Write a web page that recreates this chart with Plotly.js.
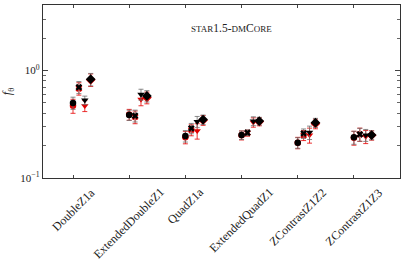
<!DOCTYPE html>
<html><head><meta charset="utf-8">
<script src="https://cdn.plot.ly/plotly-3.0.1.min.js"></script>
<style>html,body{margin:0;padding:0;background:#fff}#plot{width:407px;height:260px}</style>
</head><body><div id="plot"></div>
<script>
const categories = ["DoubleZ1a","ExtendedDoubleZ1","QuadZ1a","ExtendedQuadZ1","ZContrastZ1Z2","ZContrastZ1Z3"];
const markerNames = ["circle","cross","triangle","diamond"];
// black series values
const blackCircle = [0.50, 0.385, 0.246, 0.251, 0.213, 0.239];
const blackCross  = [0.70, 0.38, 0.29, 0.264, 0.26, 0.255];
const blackTri    = [0.53, 0.60, 0.334, 0.339, 0.266, 0.251];
const blackDia    = [0.83, 0.58, 0.35, 0.339, 0.327, 0.251];
const blackCircleErr = [0.065, 0.042, 0.03, 0.023, 0.024, 0.033];
const blackCrossErr  = [0.09, 0.048, 0.032, 0.016, 0.026, 0.035];
const blackTriErr    = [0.048, 0.07, 0.04, 0.032, 0.038, 0.032];
const blackDiaErr    = [0.11, 0.07, 0.035, 0.028, 0.032, 0.024];
// red series values
const redCircle = [0.47, 0.39, 0.24, 0.25, 0.213, 0.237];
const redCross  = [0.68, 0.37, 0.28, 0.262, 0.25, 0.255];
const redTri    = [0.47, 0.54, 0.275, 0.33, 0.251, 0.243];
const redDia    = [0.82, 0.56, 0.345, 0.335, 0.32, 0.25];
const redCircleErr = [0.07, 0.045, 0.032, 0.024, 0.026, 0.035];
const redCrossErr  = [0.09, 0.05, 0.033, 0.017, 0.027, 0.036];
const redTriErr    = [0.055, 0.07, 0.045, 0.033, 0.04, 0.034];
const redDiaErr    = [0.11, 0.07, 0.036, 0.029, 0.033, 0.025];

const offsets = [0, 0.105, 0.21, 0.315];
const symbols = ["circle","x","triangle-down","diamond"];
const sizes = [6.5, 6, 6.5, 7.5];

const redSets = [[redCircle,redCircleErr],[redCross,redCrossErr],[redTri,redTriErr],[redDia,redDiaErr]];
const blackSets = [[blackCircle,blackCircleErr],[blackCross,blackCrossErr],[blackTri,blackTriErr],[blackDia,blackDiaErr]];

const traces = [];
function add(sets, color, ecolor){
  sets.forEach((s,i)=>{
    traces.push({
      type:'scatter', mode:'markers',
      x: categories.map((c,j)=>j+offsets[i]),
      y: s[0],
      error_y:{type:'data', array:s[1], visible:true, color:ecolor, thickness:1, width:2.5},
      marker:{symbol:symbols[i], size:sizes[i], color:color, line:{width:0}},
      showlegend:false, hoverinfo:'skip', name:markerNames[i]
    });
  });
}
add(redSets, '#e00000', 'rgba(230,0,0,0.8)');
add(blackSets, '#000000', 'rgba(110,110,110,0.8)');

const font = {family:'"Liberation Serif", "DejaVu Serif", serif', color:'#222'};
const annotations = categories.map((c,j)=>({
  xref:'x', yref:'paper', x:j, y:-0.025, xanchor:'center', yanchor:'top',
  text:c, textangle:-45, showarrow:false, font:Object.assign({size:12}, font)
}));
annotations.push({
  xref:'paper', yref:'paper', x:0.527, y:0.865, xanchor:'center', yanchor:'middle', showarrow:false,
  text:'<span style="font-size:9px">STAR</span>1.5-<span style="font-size:9px">DM</span>C<span style="font-size:9px">ORE</span>',
  font:Object.assign({size:11.5}, font)
});
const layout = {
  width:407, height:260,
  margin:{l:43, r:7, t:5, b:82},
  paper_bgcolor:'#fff', plot_bgcolor:'#fff',
  font: Object.assign({size:11}, font),
  xaxis:{
    range:[-0.534, 5.82], tickvals:[0,1,2,3,4,5], showticklabels:false,
    ticks:'inside', ticklen:3, tickcolor:'#444',
    showgrid:false, zeroline:false, showline:true, linecolor:'#333', linewidth:1.3, mirror:'ticks'
  },
  yaxis:{
    type:'log', range:[-1, 0.61],
    tickvals:[0.1, 1], ticktext:['10<sup>\u22121</sup>','10<sup>0</sup>'],
    ticks:'inside', ticklen:5, tickcolor:'#444',
    minor:{tickvals:[0.2,0.3,0.4,0.5,0.6,0.7,0.8,0.9,2,3,4], ticks:'inside', ticklen:3, tickcolor:'#666', showgrid:false},
    showgrid:false, zeroline:false, showline:true, linecolor:'#333', linewidth:1.3, mirror:'ticks',
    tickfont:Object.assign({size:11}, font),
    title:{text:'<i>f</i><sub>\u03b8</sub>', font:Object.assign({size:12}, font), standoff:8}
  },
  annotations: annotations
};
Plotly.newPlot('plot', traces, layout, {staticPlot:true, displayModeBar:false});
</script></body></html>
